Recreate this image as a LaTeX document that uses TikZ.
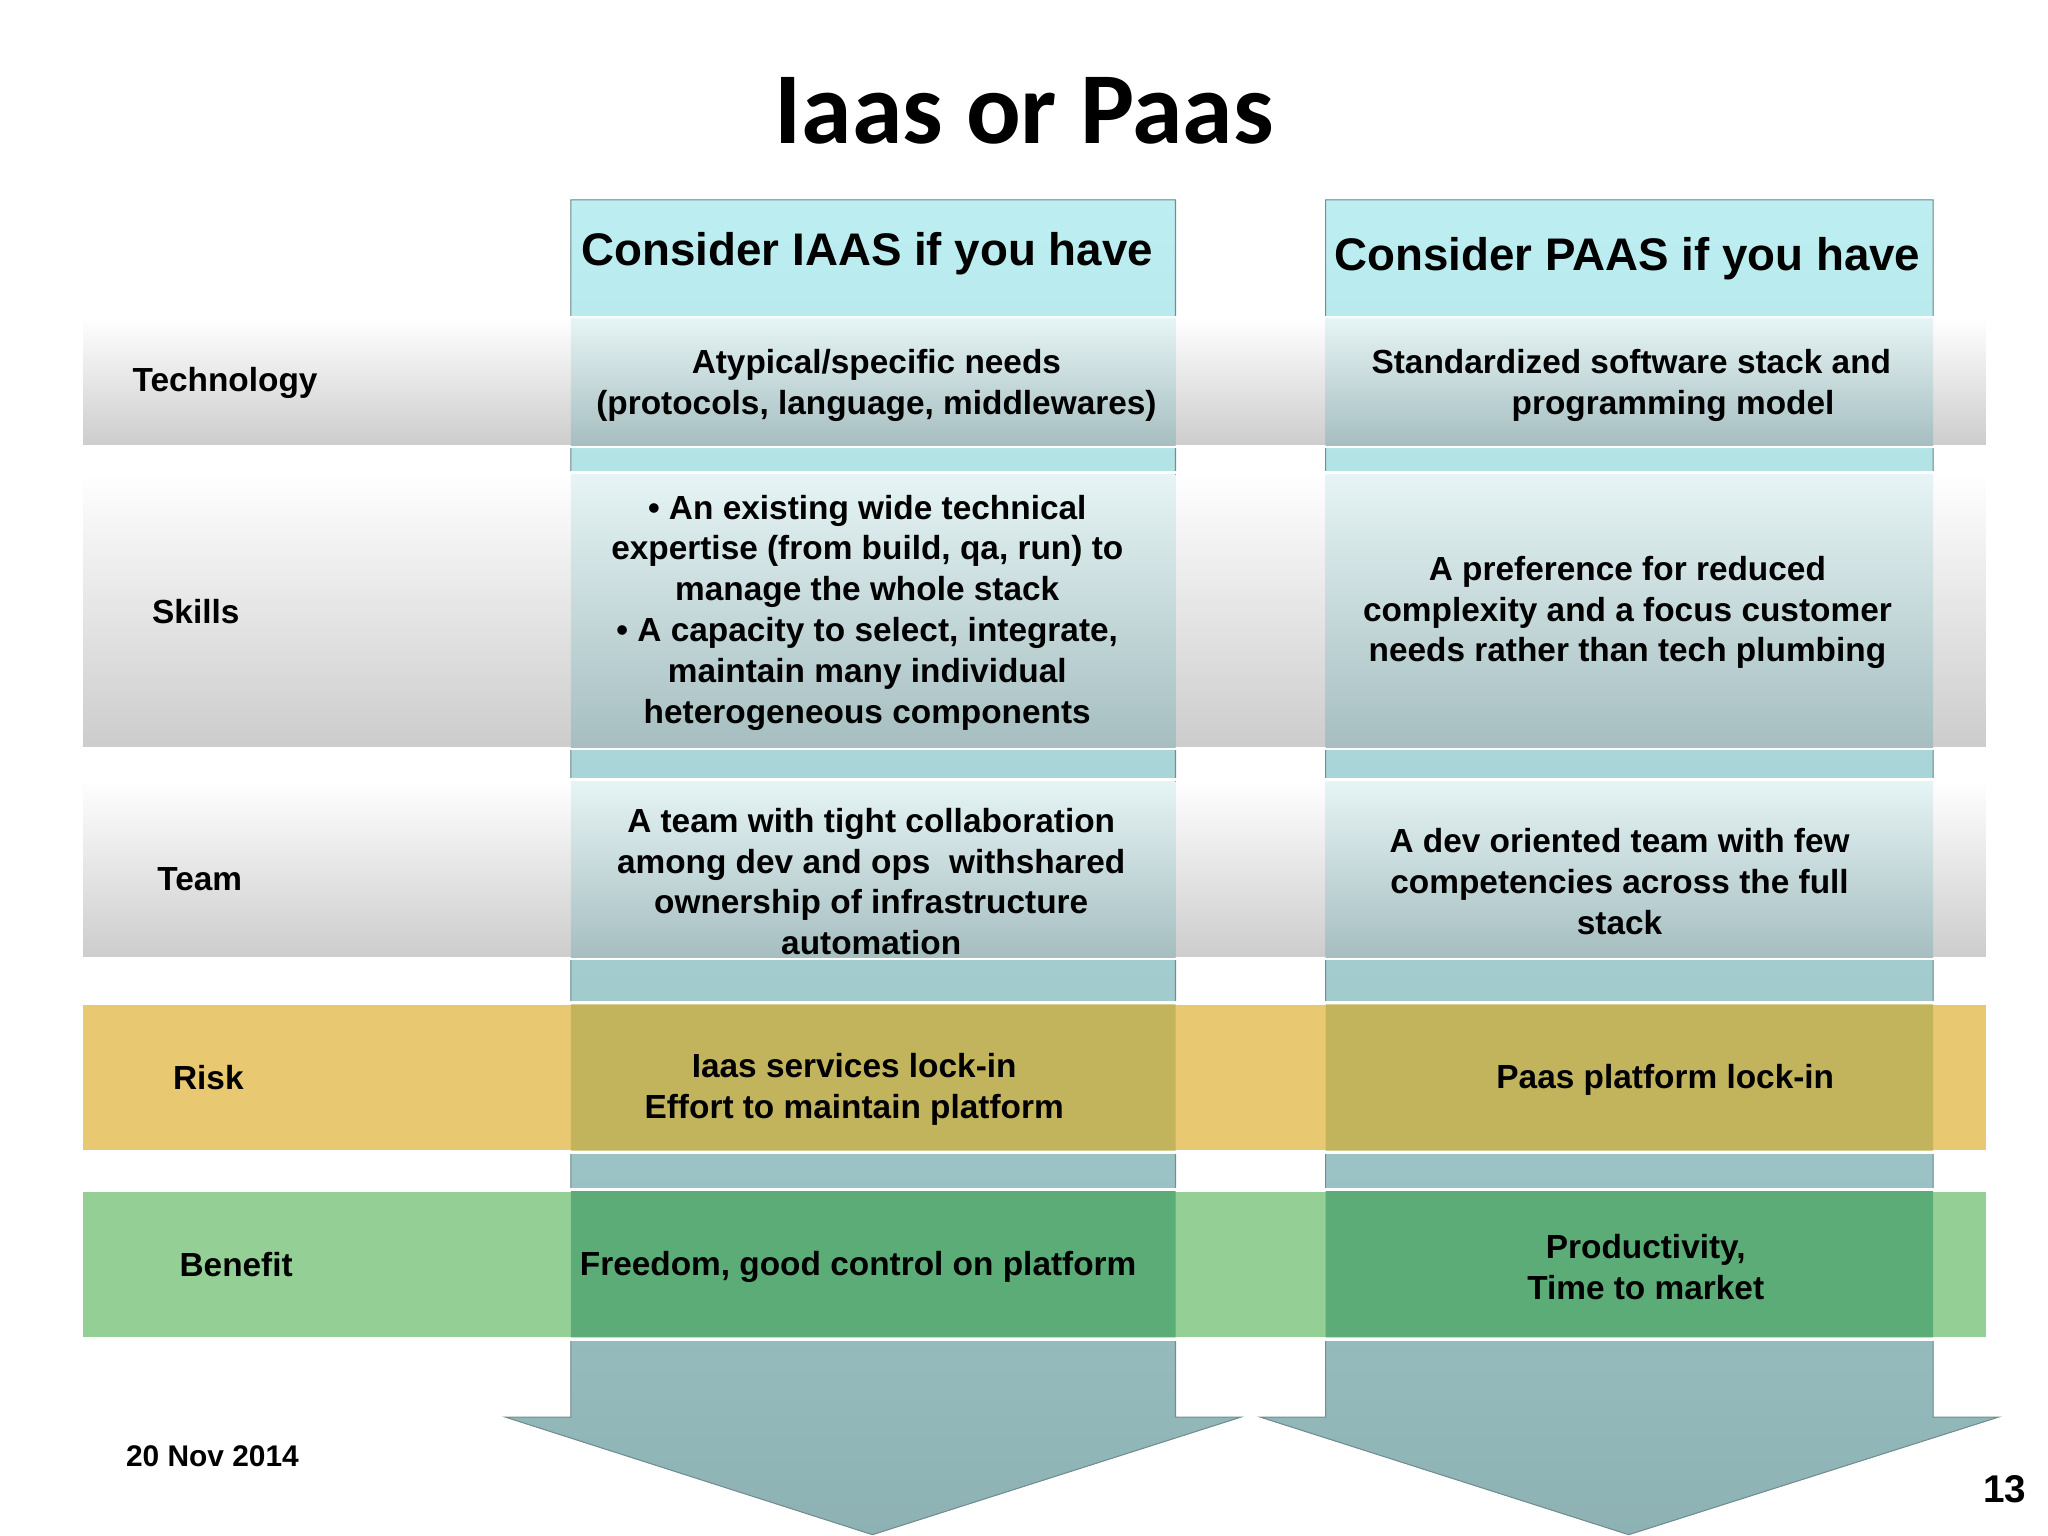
\documentclass[tikz,border=0pt]{standalone}
\usepackage{fontspec}
\setmainfont{Liberation Sans}
\newfontfamily\titlefont{Carlito}
\usetikzlibrary{positioning}
\definecolor{colTop}{HTML}{BDEFF2}
\definecolor{colBot}{HTML}{8EB2B4}
\definecolor{riskY}{HTML}{E8C972}
\definecolor{riskO}{HTML}{C2B45C}
\definecolor{benG}{HTML}{94D096}
\definecolor{benO}{HTML}{5BAC76}
\definecolor{ovTop}{HTML}{E6F4F5}
\definecolor{ovBot}{HTML}{A6BEC0}
\begin{document}
\begin{tikzpicture}[x=0.01306cm,y=-0.01306cm]
 \tikzset{column/.style={top color=colTop, bottom color=colBot, draw=colBot!80!black, line width=0.3pt}}
 \tikzset{grayrow/.style={top color=white, bottom color=gray!40, draw=white, line width=1pt}}
 \tikzset{overlap/.style={top color=ovTop, bottom color=ovBot}}
 \tikzset{rowlabel/.style={anchor=west, font=\bfseries\fontsize{9.5}{11}\selectfont}}
 \tikzset{cell/.style={align=center, font=\bfseries\fontsize{9.5}{11.6}\selectfont}}
 \tikzset{head/.style={font=\bfseries\fontsize{13}{15}\selectfont}}
  \useasboundingbox (0,0) rectangle (1568,1176);
  % columns
  \fill[column] (437,153) -- (900,153) -- (900,1085) -- (950,1085) -- (668,1175) -- (387,1085) -- (437,1085) -- cycle;
  \fill[column] (1015,153) -- (1480,153) -- (1480,1085) -- (1530,1085) -- (1247,1175) -- (965,1085) -- (1015,1085) -- cycle;
  % rows
  \fill[grayrow] (62,243) rectangle (1522,342);
  \fill[grayrow] (62,362) rectangle (1522,573);
  \fill[grayrow] (62,597) rectangle (1522,734);
  \foreach \ya/\yb in {244/341, 363/572, 598/733}{
    \fill[overlap] (437,\ya) rectangle (900,\yb);
    \fill[overlap] (1015,\ya) rectangle (1480,\yb);
  }
  \fill[riskY, draw=white, line width=1pt] (62,768) rectangle (1522,882);
  \fill[riskO] (437,769) rectangle (900,881) (1015,769) rectangle (1480,881);
  \fill[benG, draw=white, line width=1pt] (62,911) rectangle (1522,1025);
  \fill[benO] (437,912) rectangle (900,1024) (1015,912) rectangle (1480,1024);
  % texts
  \node[font=\titlefont\bfseries\fontsize{29}{32}\selectfont] (title) at (784,85) {Iaas or Paas};
  \node[head] (hIaas) at (664,194) {Consider IAAS if you have};
  \node[head] (hPaas) at (1246,198) {Consider PAAS if you have};
  \node[rowlabel] (lTech) at (92,293) {Technology};
  \node[rowlabel] (lSkill) at (107,468) {Skills};
  \node[rowlabel] (lTeam) at (111,673) {Team};
  \node[rowlabel] (lRisk) at (123,825) {Risk};
  \node[rowlabel] (lBen) at (128,968) {Benefit};
  \node[cell] (iTech) at (671,295) {Atypical/specific needs\\(protocols, language, middlewares)};
  \node[cell] (pTech) at (1249,295) {Standardized software stack and\\\hspace{2.5em}programming model};
  \node[cell] (iSkill) at (664,469) {\textbullet\ An existing wide technical\\expertise (from build, qa, run) to\\manage the whole stack\\\textbullet\ A capacity to select, integrate,\\maintain many individual\\heterogeneous components};
  \node[cell] (pSkill) at (1246,469) {A preference for reduced\\complexity and a focus customer\\needs rather than tech plumbing};
  \node[cell] (iTeam) at (667,675) {A team with tight collaboration\\among dev and ops\ \ withshared\\ownership of infrastructure\\automation};
  \node[cell] (pTeam) at (1240,675) {A dev oriented team with few\\competencies across the full\\stack};
  \node[cell] (iRisk) at (654,834) {Iaas services lock-in\\Effort to maintain platform};
  \node[cell] (pRisk) at (1275,827) {Paas platform lock-in};
  \node[cell] (iBen) at (657,970) {Freedom, good control on platform};
  \node[cell] (pBen) at (1260,970) {Productivity,\\Time to market};
  \node[anchor=west, font=\bfseries\fontsize{8.5}{10}\selectfont] (date) at (87,1115) {20 Nov 2014};
  \node[font=\bfseries\fontsize{11}{12}\selectfont] (page) at (1535,1140) {13};
\end{tikzpicture}
\end{document}
